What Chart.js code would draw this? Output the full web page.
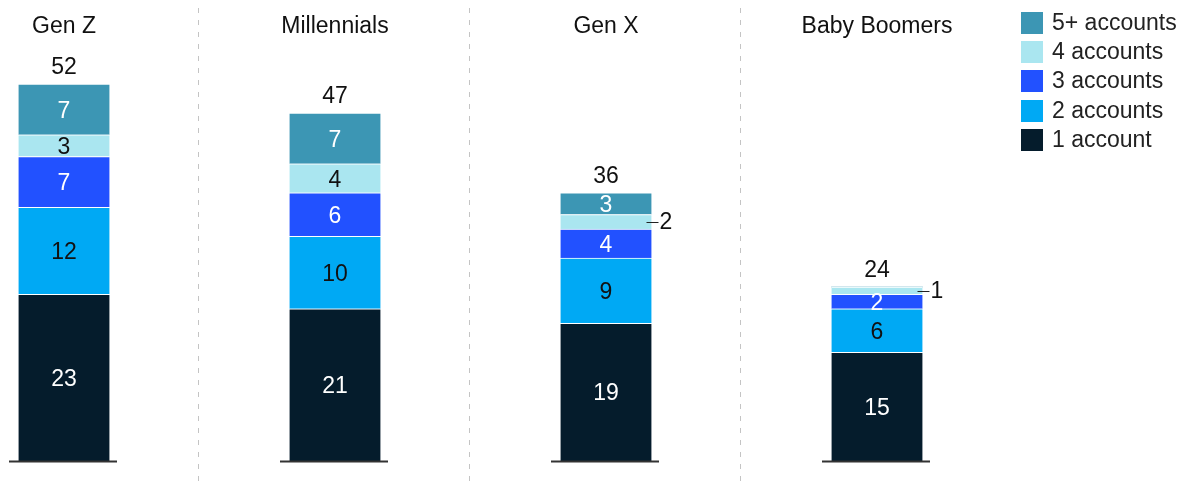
<!DOCTYPE html>
<html>
<head>
<meta charset="utf-8">
<style>
  html, body { margin: 0; padding: 0; background: #fff; }
  #wrap { width: 1196px; height: 487px; position: relative; }
</style>
<script src="https://cdn.jsdelivr.net/npm/chart.js@4/dist/chart.umd.min.js"></script>
</head>
<body>
<div id="wrap"><canvas id="c" width="1196" height="487"></canvas></div>
<script>
// ---- Data ----
const categories = ['Gen Z', 'Millennials', 'Gen X', 'Baby Boomers'];
const seriesNames = ['1 account', '2 accounts', '3 accounts', '4 accounts', '5+ accounts'];
const oneAccount = [23, 21, 19, 15];
const twoAccounts = [12, 10, 9, 6];
const threeAccounts = [7, 6, 4, 2];
const fourAccounts = [3, 4, 2, 1];
const fivePlusAccounts = [7, 7, 3, 0];
const totals = [52, 47, 36, 24];
// segments whose label is shown beside the bar with a leader line
const calloutSegments = [['Gen X', '4 accounts'], ['Baby Boomers', '4 accounts']];

// ---- Styles ----
const colors = ['#051C2C', '#00A9F4', '#2251FF', '#AAE6F0', '#3C96B4'];
const labelColors = ['#ffffff', '#111111', '#ffffff', '#111111', '#ffffff'];
const FONT = '23px "Liberation Sans", Arial, Helvetica, sans-serif';
const TEXT = '#111111';

const seriesValues = [oneAccount, twoAccounts, threeAccounts, fourAccounts, fivePlusAccounts];

const datasets = seriesValues.map((vals, i) => ({
  label: seriesNames[i],
  data: vals,
  backgroundColor: colors[i],
  borderColor: '#ffffff',
  borderWidth: { top: 1, right: 0, bottom: 0, left: 0 },
  borderSkipped: false,
  barThickness: 91,
  clip: false
}));

const decor = {
  id: 'decor',
  beforeDatasetsDraw(chart) {
    const ctx = chart.ctx;
    const xs = chart.scales.x;
    ctx.save();
    ctx.strokeStyle = '#c4c4c4';
    ctx.lineWidth = 1;
    ctx.setLineDash([5, 7]);
    for (let i = 0; i < categories.length - 1; i++) {
      const x = Math.round((xs.getPixelForValue(i) + xs.getPixelForValue(i + 1)) / 2) - 1.5;
      ctx.beginPath();
      ctx.moveTo(x, 8);
      ctx.lineTo(x, 487);
      ctx.stroke();
    }
    ctx.restore();
  },
  afterDatasetsDraw(chart) {
    const ctx = chart.ctx;
    const xs = chart.scales.x, ys = chart.scales.y;
    const base = ys.getPixelForValue(0);
    ctx.save();
    // baselines
    ctx.strokeStyle = '#333333';
    ctx.lineWidth = 2;
    categories.forEach((c, i) => {
      const cx = xs.getPixelForValue(i);
      ctx.beginPath();
      ctx.moveTo(cx - 55, base + 0.5);
      ctx.lineTo(cx + 53, base + 0.5);
      ctx.stroke();
    });
    ctx.font = FONT;
    ctx.textBaseline = 'middle';
    ctx.textAlign = 'center';
    // titles
    ctx.fillStyle = TEXT;
    categories.forEach((c, i) => {
      ctx.fillText(c, xs.getPixelForValue(i), 27);
    });
    // totals
    categories.forEach((c, i) => {
      let sum = 0;
      seriesValues.forEach(v => sum += v[i]);
      const top = ys.getPixelForValue(sum);
      ctx.fillStyle = TEXT;
      ctx.fillText(String(totals[i]), xs.getPixelForValue(i), top - 16);
    });
    // segment labels
    chart.data.datasets.forEach((ds, di) => {
      const meta = chart.getDatasetMeta(di);
      meta.data.forEach((el, i) => {
        const v = ds.data[i];
        if (!v) return;
        const p = el.getProps(['x', 'y', 'base', 'width'], true);
        const cy = (p.y + p.base) / 2;
        const isCallout = calloutSegments.some(s => s[0] === categories[i] && s[1] === ds.label);
        if (isCallout) {
          const right = p.x + p.width / 2;
          ctx.strokeStyle = '#222';
          ctx.lineWidth = 1;
          ctx.beginPath();
          ctx.moveTo(right - 5, Math.round(cy) + 0.5);
          ctx.lineTo(right + 7, Math.round(cy) + 0.5);
          ctx.stroke();
          ctx.fillStyle = TEXT;
          ctx.textAlign = 'left';
          ctx.fillText(String(v), right + 8, cy + 1);
          ctx.textAlign = 'center';
        } else {
          ctx.fillStyle = labelColors[di];
          ctx.fillText(String(v), p.x, cy + 2);
        }
      });
    });
    // legend (top to bottom: 5+ ... 1)
    const lx = 1021, ly = 12, step = 29.2;
    for (let k = 0; k < seriesNames.length; k++) {
      const di = seriesNames.length - 1 - k;
      const y = ly + k * step;
      ctx.fillStyle = colors[di];
      ctx.fillRect(lx, Math.round(y), 22, 22);
      ctx.fillStyle = '#222';
      ctx.textAlign = 'left';
      ctx.fillText(seriesNames[di], lx + 31, Math.round(y) + 12);
    }
    ctx.restore();
  }
};

new Chart(document.getElementById('c'), {
  type: 'bar',
  data: { labels: categories, datasets },
  options: {
    responsive: false,
    animation: false,
    devicePixelRatio: 1,
    layout: { padding: { left: 64, right: 319, top: 26, bottom: 26 } },
    scales: {
      x: { display: false, stacked: true, offset: false },
      y: { display: false, stacked: true, min: 0, max: 60 }
    },
    plugins: { legend: { display: false }, tooltip: { enabled: false } }
  },
  plugins: [decor]
});
</script>
</body>
</html>
